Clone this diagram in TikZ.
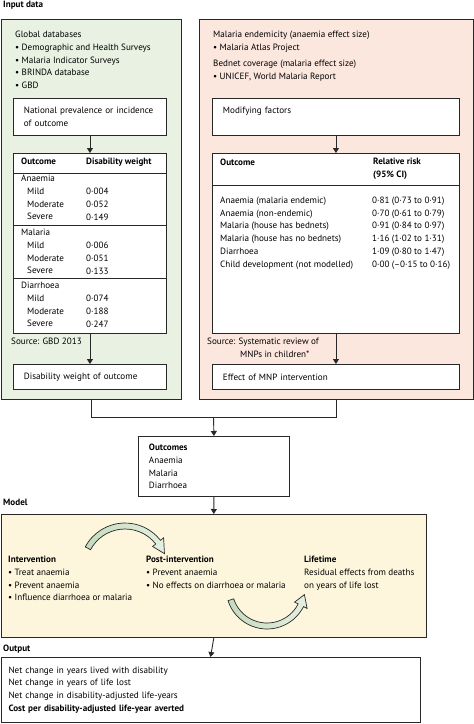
\documentclass[tikz,border=0pt]{standalone}
\usepackage{fontspec}
\setmainfont{PT Sans}
\usetikzlibrary{arrows.meta}
\definecolor{lc}{RGB}{40,40,40}
\definecolor{gfill}{RGB}{233,241,227}
\definecolor{rfill}{RGB}{252,231,222}
\definecolor{yfill}{RGB}{253,246,221}
\definecolor{agA}{RGB}{196,219,190}
\definecolor{agB}{RGB}{229,240,224}
\newcommand{\fs}{\fontsize{9.1}{12.75}\selectfont}
\begin{document}
\begin{tikzpicture}[x=1pt,y=-1pt,
  every node/.style={font=\fs},
  head/.style={anchor=north west,inner sep=0pt,font=\fs\bfseries},
  txt/.style={anchor=north west,inner sep=0pt,align=left},
  panel/.style={draw=lc,line width=1pt,anchor=north west,inner sep=0pt},
  box/.style={draw=lc,fill=white,line width=0.9pt,anchor=north west,inner xsep=10.5pt,inner ysep=0pt,align=left},
  rule/.style={draw=lc,line width=0.9pt},
  conn/.style={draw=lc,line width=0.9pt},
  arr/.style={conn,-{Triangle[width=6pt,length=5pt]}},
  curv/.style={draw=lc,line width=0.7pt,left color=agA,right color=agB}
]
\useasboundingbox (0,0) rectangle (474,724);

% headings
\node[head] (hin) at (3,0.5) {Input data};
\node[head] (hmod) at (3,498.5) {Model};
\node[head] (hout) at (3,644.5) {Output};

% panels
\node[panel,fill=gfill,minimum width=180.5pt,minimum height=380pt] (gpanel) at (0.6,19) {};
\node[panel,fill=rfill,minimum width=273.5pt,minimum height=380pt] (rpanel) at (199,19) {};

% left panel
\node[txt] (gdb) at (15,31) {Global databases\\• Demographic and Health Surveys\\• Malaria Indicator Surveys\\• BRINDA database\\• GBD};
\node[box,text width=132pt,minimum height=37pt] (nat) at (13,98) {National prevalence or incidence\\of outcome};
\node[box,minimum width=153pt,minimum height=180pt] (tabL) at (13,153) {};
\draw[rule] (13,173) -- (166,173);
\draw[rule] (13,225) -- (166,225);
\draw[rule] (13,278) -- (166,278);
\node[txt,font=\fs\bfseries] (tlh1) at (21,158) {Outcome};
\node[txt,font=\fs\bfseries] (tlh2) at (86,158) {Disability weight};
\node[txt] (ga) at (21,175) {Anaemia\\\hspace*{6pt}Mild\\\hspace*{6pt}Moderate\\\hspace*{6pt}Severe};
\node[txt] (gav) at (86,188) {0·004\\0·052\\0·149};
\node[txt] (gm) at (21,229) {Malaria\\\hspace*{6pt}Mild\\\hspace*{6pt}Moderate\\\hspace*{6pt}Severe};
\node[txt] (gmv) at (86,242) {0·006\\0·051\\0·133};
\node[txt] (gd) at (21,282) {Diarrhoea\\\hspace*{6pt}Mild\\\hspace*{6pt}Moderate\\\hspace*{6pt}Severe};
\node[txt] (gdv) at (86,295) {0·074\\0·188\\0·247};
\node[txt] (srcL) at (11,338) {Source: GBD 2013};
\node[box,text width=132pt,minimum height=25pt] (disL) at (13,364) {Disability weight of outcome};

% right panel
\node[txt] (rme) at (213,31) {Malaria endemicity (anaemia effect size)\\• Malaria Atlas Project};
\node[txt] (rbc) at (213,60) {Bednet coverage (malaria effect size)\\• UNICEF, World Malaria Report};
\node[box,text width=226pt,minimum height=37pt] (mod) at (212,98) {Modifying factors\\\mbox{}};
\node[box,minimum width=247pt,minimum height=180pt] (tabR) at (212,153) {};
\draw[rule] (212,185) -- (459,185);
\node[txt,font=\fs\bfseries] (trh1) at (220,158.5) {Outcome};
\node[txt,font=\fs\bfseries] (trh2) at (373,158) {Relative risk\\(95\% CI)};
\node[txt,font=\fontsize{9.1}{12.85}\selectfont] (trl) at (220,196.5) {Anaemia (malaria endemic)\\Anaemia (non-endemic)\\Malaria (house has bednets)\\Malaria (house has no bednets)\\Diarrhoea\\Child development (not modelled)};
\node[txt,font=\fontsize{9.1}{12.85}\selectfont] (trv) at (372,196.5) {0·81 (0·73 to 0·91)\\0·70 (0·61 to 0·79)\\0·91 (0·84 to 0·97)\\1·16 (1·02 to 1·31)\\1·09 (0·80 to 1·47)\\0·00 (–0·15 to 0·16)};
\node[txt] (srcR) at (207,338) {Source: Systematic review of\\\hspace*{33pt}MNPs in children*};
\node[box,text width=226pt,minimum height=25pt] (eff) at (212,364) {Effect of MNP intervention};

% connectors inside panels
\draw[arr] (nat.south) -- (tabL.north);
\draw[arr] (tabL.south) -- (disL.north);
\draw[arr] (mod.south) -- (tabR.north);
\draw[arr] (tabR.south) -- (eff.north);

% outcomes
\node[box,text width=130pt,minimum height=60pt] (outc) at (138,436) {\textbf{Outcomes}\\Anaemia\\Malaria\\Diarrhoea};
\coordinate (merge) at (213.5,417);
\draw[conn] (gpanel.south) |- (merge);
\draw[conn] (rpanel.south) |- (merge);
\draw[arr] (merge) -- (outc.north);

% model
\node[panel,fill=yfill,minimum width=425.4pt,minimum height=123pt] (model) at (0.6,514) {};
\draw[arr] (outc.south) -- (model.north);
\node[txt] (intv) at (8,556) {\textbf{Intervention}\\• Treat anaemia\\• Prevent anaemia\\• Influence diarrhoea or malaria};
\node[txt] (post) at (146,556) {\textbf{Post-intervention}\\• Prevent anaemia\\• No effects on diarrhoea or malaria};
\node[txt] (life) at (304,556) {\textbf{Lifetime}\\Residual effects from deaths\\on years of life lost};

\begin{scope}[shift={(125,568)},x=1pt,y=1pt]
  \shadedraw[curv] (152:45) arc[start angle=152,end angle=38,radius=45] -- (38:49) -- (20:42) -- (38:35) -- (38:39) arc[start angle=38,end angle=152,radius=39] -- cycle;
\end{scope}
\begin{scope}[shift={(267,588)},x=1pt,y=1pt]
  \shadedraw[curv] (198:41) arc[start angle=198,end angle=333,radius=41] -- (333:45) -- (350:38) -- (333:31) -- (333:35) arc[start angle=333,end angle=198,radius=35] -- cycle;
\end{scope}

% output
\node[box,text width=404pt,inner xsep=7.5pt,minimum height=65pt] (outb) at (0.6,657) {Net change in years lived with disability\\Net change in years of life lost\\Net change in disability-adjusted life-years\\\textbf{Cost per disability-adjusted life-year averted}};
\draw[arr] (model.south) -- (outb.north);
\end{tikzpicture}
\end{document}
